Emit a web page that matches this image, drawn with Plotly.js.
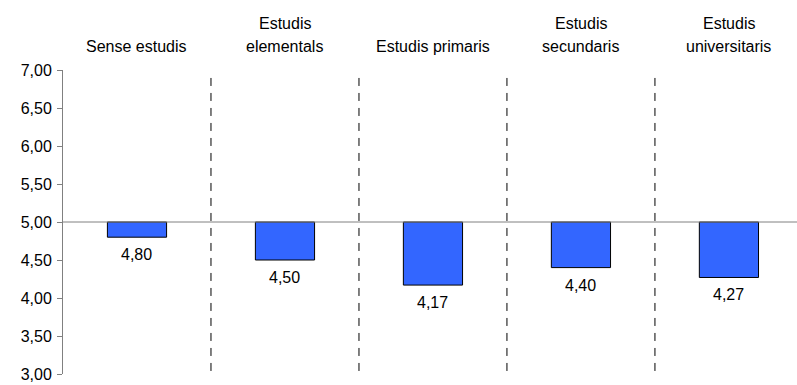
<!DOCTYPE html>
<html>
<head>
<meta charset="utf-8">
<script src="https://cdn.plot.ly/plotly-3.0.1.min.js"></script>
<style>html,body{margin:0;padding:0;background:#fff}</style>
</head>
<body>
<div id="chart" style="width:797px;height:385px"></div>
<script>
var categoryLines = [["Sense estudis"], ["Estudis", "elementals"], ["Estudis primaris"], ["Estudis", "secundaris"], ["Estudis", "universitaris"]];
var values = [4.80, 4.50, 4.17, 4.40, 4.27];
var valueLabels = ["4,80", "4,50", "4,17", "4,40", "4,27"];
var baseline = 5.0;
var yTicks = [3.0, 3.5, 4.0, 4.5, 5.0, 5.5, 6.0, 6.5, 7.0];

var FONT = 'Liberation Sans, Arial, sans-serif';
var FS = 16;

var xIdx = values.map(function(v, i){ return i; });
var trace = {
  type: 'bar',
  x: xIdx,
  y: values.map(function(v){ return v - baseline; }),
  base: baseline,
  width: 0.4,
  marker: {color: '#3366FF', line: {color: '#000000', width: 1}},
  hoverinfo: 'skip'
};

var annotations = [];
values.forEach(function(v, i){
  annotations.push({x: i, y: v, xref: 'x', yref: 'y', text: valueLabels[i], showarrow: false,
    yanchor: 'top', yshift: -7, font: {family: FONT, size: FS, color: '#000'}});
});
categoryLines.forEach(function(lines, i){
  var n = lines.length;
  lines.forEach(function(t, j){
    var fromBottom = n - 1 - j;
    annotations.push({x: i, y: 1, xref: 'x', yref: 'paper', text: t, showarrow: false,
      yanchor: 'middle', yshift: 24 + 23 * fromBottom,
      font: {family: FONT, size: FS, color: '#000'}});
  });
});

var shapes = [{type: 'line', xref: 'paper', yref: 'y', x0: 0, x1: 1, y0: baseline, y1: baseline,
  line: {color: '#808080', width: 1}}];
for (var k = 0; k < values.length - 1; k++) {
  shapes.push({type: 'line', xref: 'x', yref: 'paper', x0: k + 0.5, x1: k + 0.5, y0: 0.01, y1: 0.9935,
    line: {color: '#000000', width: 1, dash: '8px,7px'}});
}

var layout = {
  width: 797, height: 385,
  margin: {l: 63, r: 0, t: 70, b: 11, pad: 0},
  paper_bgcolor: '#fff', plot_bgcolor: '#fff',
  separators: ',.',
  showlegend: false,
  font: {family: FONT, size: FS, color: '#000'},
  xaxis: {range: [-0.5, 4.46], showticklabels: false, showgrid: false, zeroline: false, showline: false, ticks: ''},
  yaxis: {range: [3, 7], tickvals: yTicks, tickformat: '.2f', showgrid: false, zeroline: false,
    showline: true, linecolor: '#808080', linewidth: 1, ticks: 'outside', ticklen: 5, tickcolor: '#808080',
    ticklabelstandoff: 2, ticklabeloverflow: 'allow',
    tickfont: {family: FONT, size: 16, color: '#000'}},
  shapes: shapes,
  annotations: annotations
};

Plotly.newPlot('chart', [trace], layout, {displayModeBar: false, staticPlot: true});
</script>
</body>
</html>
